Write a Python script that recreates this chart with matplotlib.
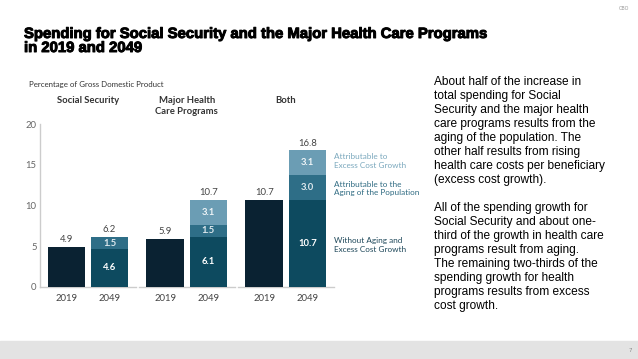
import matplotlib
matplotlib.use('Agg')
import matplotlib.pyplot as plt
import matplotlib.patheffects as pe

# Data (percentage of GDP)
groups = ['Social Security', 'Major Health\nCare Programs', 'Both']
years = ['2019', '2049']
base_2019 = [4.9, 5.9, 10.7]
base_2049 = [4.6, 6.1, 10.7]
aging_2049 = [1.5, 1.5, 3.0]
excess_2049 = [0.0, 3.1, 3.1]
total_2049 = [6.2, 10.7, 16.8]
yticks = [0, 5, 10, 15, 20]

c_dark = '#0a2232'
c_base = '#0d4a5f'
c_aging = '#2e6e87'
c_excess = '#6b9db4'
c_text = '#444444'

fig = plt.figure(figsize=(6.38, 3.59), dpi=100)

# title and slide furniture
fig.text(24/638, 1 - 27/359, 'Spending for Social Security and the Major Health Care Programs\nin 2019 and 2049',
         family='Liberation Sans', weight='bold', fontsize=10.7, va='top', ha='left',
         linespacing=1.0, color='black',
         path_effects=[pe.withStroke(linewidth=0.7, foreground='black')])
fig.text(629/638, 1 - 8/359, 'CBO', fontsize=3.5, color='#999999', ha='right', va='center')
fig.patches.append(plt.Rectangle((0, 0), 1, 18/359, transform=fig.transFigure,
                                 color='#e3e3e3', zorder=0))
fig.text(630/638, 8/359, '7', fontsize=4, color='#888888', ha='center', va='center')

body = ("About half of the increase in\ntotal spending for Social\nSecurity and the major health\n"
        "care programs results from the\naging of the population. The\nother half results from rising\n"
        "health care costs per beneficiary\n(excess cost growth).\n\n"
        "All of the spending growth for\nSocial Security and about one-\nthird of the growth in health care\n"
        "programs result from aging.\nThe remaining two-thirds of the\nspending growth for health\n"
        "programs results from excess\ncost growth.")
fig.text(434/638, 1 - 76/359, body, family='Liberation Sans', fontsize=8.6, va='top', ha='left',
         linespacing=1.225, color='black')

# chart axes: x from 40px, y=0 at 286.7px, y=20 at 124px
ax = fig.add_axes([40/638, 1 - 286.7/359, (336 - 40)/638, (286.7 - 124)/359])
bw = 1.0
gap = 1.15
period = 2.63
x19 = [i * period for i in range(3)]
x49 = [i * period + gap for i in range(3)]

ax.bar(x19, base_2019, width=bw, color=c_dark, zorder=2)
ax.bar(x49, base_2049, width=bw, color=c_base, zorder=2)
ax.bar(x49, aging_2049, width=bw, bottom=base_2049, color=c_aging, zorder=2)
b2 = [b + a for b, a in zip(base_2049, aging_2049)]
ax.bar(x49, excess_2049, width=bw, bottom=b2, color=c_excess, zorder=2)

fam = ['Lato', 'DejaVu Sans']
for i in range(3):
    ax.text(x19[i], base_2019[i] + 0.3, f'{base_2019[i]:.1f}', ha='center', va='bottom',
            fontsize=6.8, color=c_text, family=fam)
    ax.text(x49[i], total_2049[i] + 0.3, f'{total_2049[i]:.1f}', ha='center', va='bottom',
            fontsize=6.8, color=c_text, family=fam)
    ax.text(x49[i], base_2049[i] / 2, f'{base_2049[i]:.1f}', ha='center', va='center',
            fontsize=6.8, color='white', weight='bold', family=fam)
    ax.text(x49[i], base_2049[i] + aging_2049[i] / 2, f'{aging_2049[i]:.1f}', ha='center', va='center',
            fontsize=6.8, color='#dfe9ee', weight='bold', family=fam)
    if excess_2049[i] > 0:
        ax.text(x49[i], b2[i] + excess_2049[i] / 2, f'{excess_2049[i]:.1f}', ha='center', va='center',
                fontsize=6.8, color='#eef4f7', weight='bold', family=fam)
    ax.text((x19[i] + x49[i]) / 2, 23.4, groups[i], ha='center', va='top',
            fontsize=6.8, weight='bold', color='#333333', family=fam, linespacing=1.3)
    # segmented baseline
    ax.plot([x19[i] - 0.7, x49[i] + 0.7], [0, 0], color='#cccccc', lw=1.0, zorder=1, clip_on=False)
    for x, y in zip([x19[i], x49[i]], years):
        ax.text(x, -0.9, y, ha='center', va='top', fontsize=6.8, color=c_text, family=fam)

# series labels to the right of the last bar
lx = x49[2] + 0.72
ax.text(lx, 15.45, 'Attributable to\nExcess Cost Growth', fontsize=5.9,
        color='#7aa8bd', va='center', ha='left', family=fam, linespacing=1.25)
ax.text(lx, 12.1, 'Attributable to the\nAging of the Population', fontsize=5.9,
        color='#2f6b82', va='center', ha='left', family=fam, linespacing=1.25)
ax.text(lx, 5.15, 'Without Aging and\nExcess Cost Growth', fontsize=5.9,
        color='#1d4759', va='center', ha='left', family=fam, linespacing=1.25)

ax.text(-0.7 - 0.29, 24.9, 'Percentage of Gross Domestic Product', fontsize=5.7, color='#333333',
        ha='left', va='center', family=fam)

ax.set_xlim(-0.7, x49[2] + 0.76)
ax.set_ylim(0, 20)
ax.set_yticks(yticks)
ax.set_yticklabels([str(t) for t in yticks], fontsize=6.8, color='#666666', family=fam)
ax.set_xticks([])
for s in ['top', 'right', 'bottom']:
    ax.spines[s].set_visible(False)
ax.spines['left'].set_color('#cccccc')
ax.spines['left'].set_linewidth(1.0)
ax.tick_params(axis='y', length=0, pad=2.5)
ax.patch.set_alpha(0)

fig.savefig('out.png', dpi=100)
